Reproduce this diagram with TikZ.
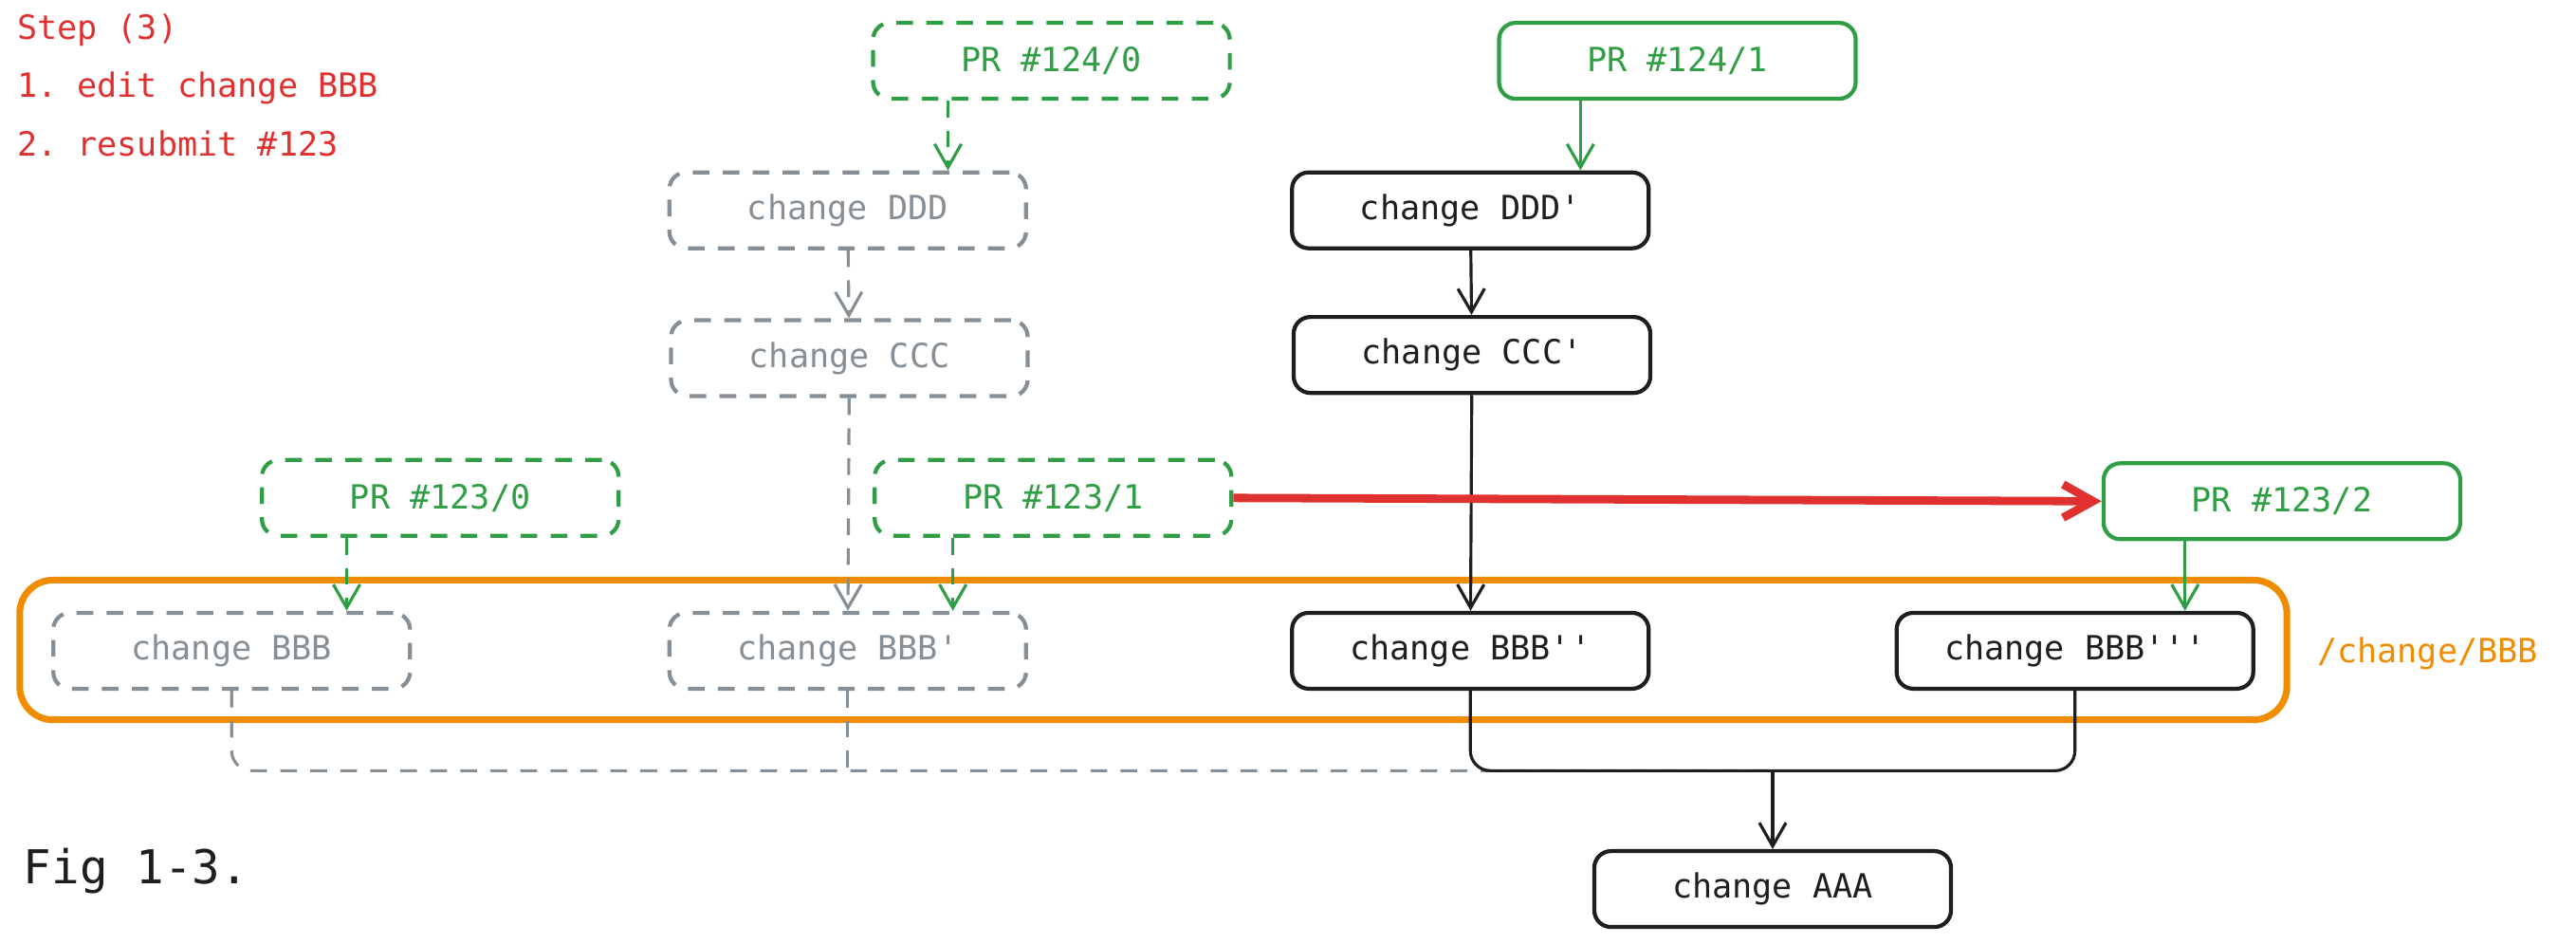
\documentclass[tikz,border=0pt]{standalone}
\usepackage{fontspec}
\setmonofont{DejaVu Sans Mono}
\usetikzlibrary{arrows.meta}
\definecolor{cg}{HTML}{2F9E44}
\definecolor{cgr}{HTML}{868E96}
\definecolor{cr}{HTML}{E03131}
\definecolor{co}{HTML}{F08C00}
\definecolor{ck}{HTML}{1E1E1E}
\begin{document}
\begin{tikzpicture}[x=0.01732cm,y=-0.01732cm,
  box/.style={rounded corners=5pt,minimum width=3.76cm,minimum height=0.8cm,font=\ttfamily\fontsize{10}{12}\selectfont,line width=1.2pt,inner sep=0pt},
  blk/.style={box,draw=ck,text=ck},
  gry/.style={box,draw=cgr,text=cgr,dash pattern=on 5pt off 4pt},
  grn/.style={box,draw=cg,text=cg},
  grnd/.style={grn,dash pattern=on 5pt off 4pt},
  ar/.style={-{Straight Barb[length=7pt,width=8pt]},line width=0.9pt},
  ak/.style={ar,ck},
  ag/.style={ar,cgr,dash pattern=on 5pt off 4pt},
  agn/.style={ar,cg},
  agnd/.style={agn,dash pattern=on 5pt off 4pt},
  bus/.style={line width=0.9pt,rounded corners=6pt}]
\useasboundingbox (0,0) rectangle (1568,574);
\node[align=left,anchor=north west,text=cr,font=\ttfamily\fontsize{10}{17.5}\selectfont,inner sep=0pt] (hdr) at (10,8) {Step (3)\\1. edit change BBB\\2. resubmit \#123};
\node[anchor=west,text=ck,font=\ttfamily\fontsize{14}{16}\selectfont,inner sep=0pt] (fig) at (14,530) {Fig 1-3.};
\draw[co,line width=2pt,rounded corners=10pt] (12,353) rectangle (1392,438);
\node[anchor=west,text=co,font=\ttfamily\fontsize{10}{12}\selectfont,inner sep=0pt] (lbl) at (1410,398) {/change/BBB};
\node[grnd] (p1240) at (640,37) {PR \#124/0};
\node[grn] (p1241) at (1021,37) {PR \#124/1};
\node[gry] (d0) at (516,128) {change DDD};
\node[blk] (d1) at (895,128) {change DDD'};
\node[gry] (c0) at (517,218) {change CCC};
\node[blk] (c1) at (896,216) {change CCC'};
\node[grnd] (p1230) at (268,303) {PR \#123/0};
\node[grnd] (p1231) at (641,303) {PR \#123/1};
\node[grn] (p1232) at (1389,305) {PR \#123/2};
\node[gry] (b0) at (141,396) {change BBB};
\node[gry] (b1) at (516,396) {change BBB'};
\node[blk] (b2) at (895,396) {change BBB''};
\node[blk] (b3) at (1263,396) {change BBB'''};
\node[blk] (a) at (1079,541) {change AAA};
\coordinate (m) at (1079,469);
\draw[agnd] (p1240.south -| 577,0) -- (d0.north -| 577,0);
\draw[agn] (p1241.south -| 962,0) -- (d1.north -| 962,0);
\draw[ag] (d0) -- (c0);
\draw[ak] (d1) -- (c1);
\draw[ag] (c0) -- (b1);
\draw[ak] (c1) -- (b2);
\draw[agnd] (p1230.south -| 211,0) -- (b0.north -| 211,0);
\draw[agnd] (p1231.south -| 580,0) -- (b1.north -| 580,0);
\draw[agn] (p1232.south -| 1330,0) -- (b3.north -| 1330,0);
\draw[cr,line width=2.5pt,-{Straight Barb[length=9pt,width=10pt]}] (p1231.east) -- (p1232.west);
\draw[bus,cgr,dash pattern=on 5pt off 4pt] (b0.south) |- (m);
\draw[bus,cgr,dash pattern=on 5pt off 4pt] (b1.south) -- (b1.south |- m);
\draw[bus,ck] (b2.south) |- (m);
\draw[bus,ck] (b3.south) |- (m);
\draw[ak] (m) -- (a);
\end{tikzpicture}
\end{document}
